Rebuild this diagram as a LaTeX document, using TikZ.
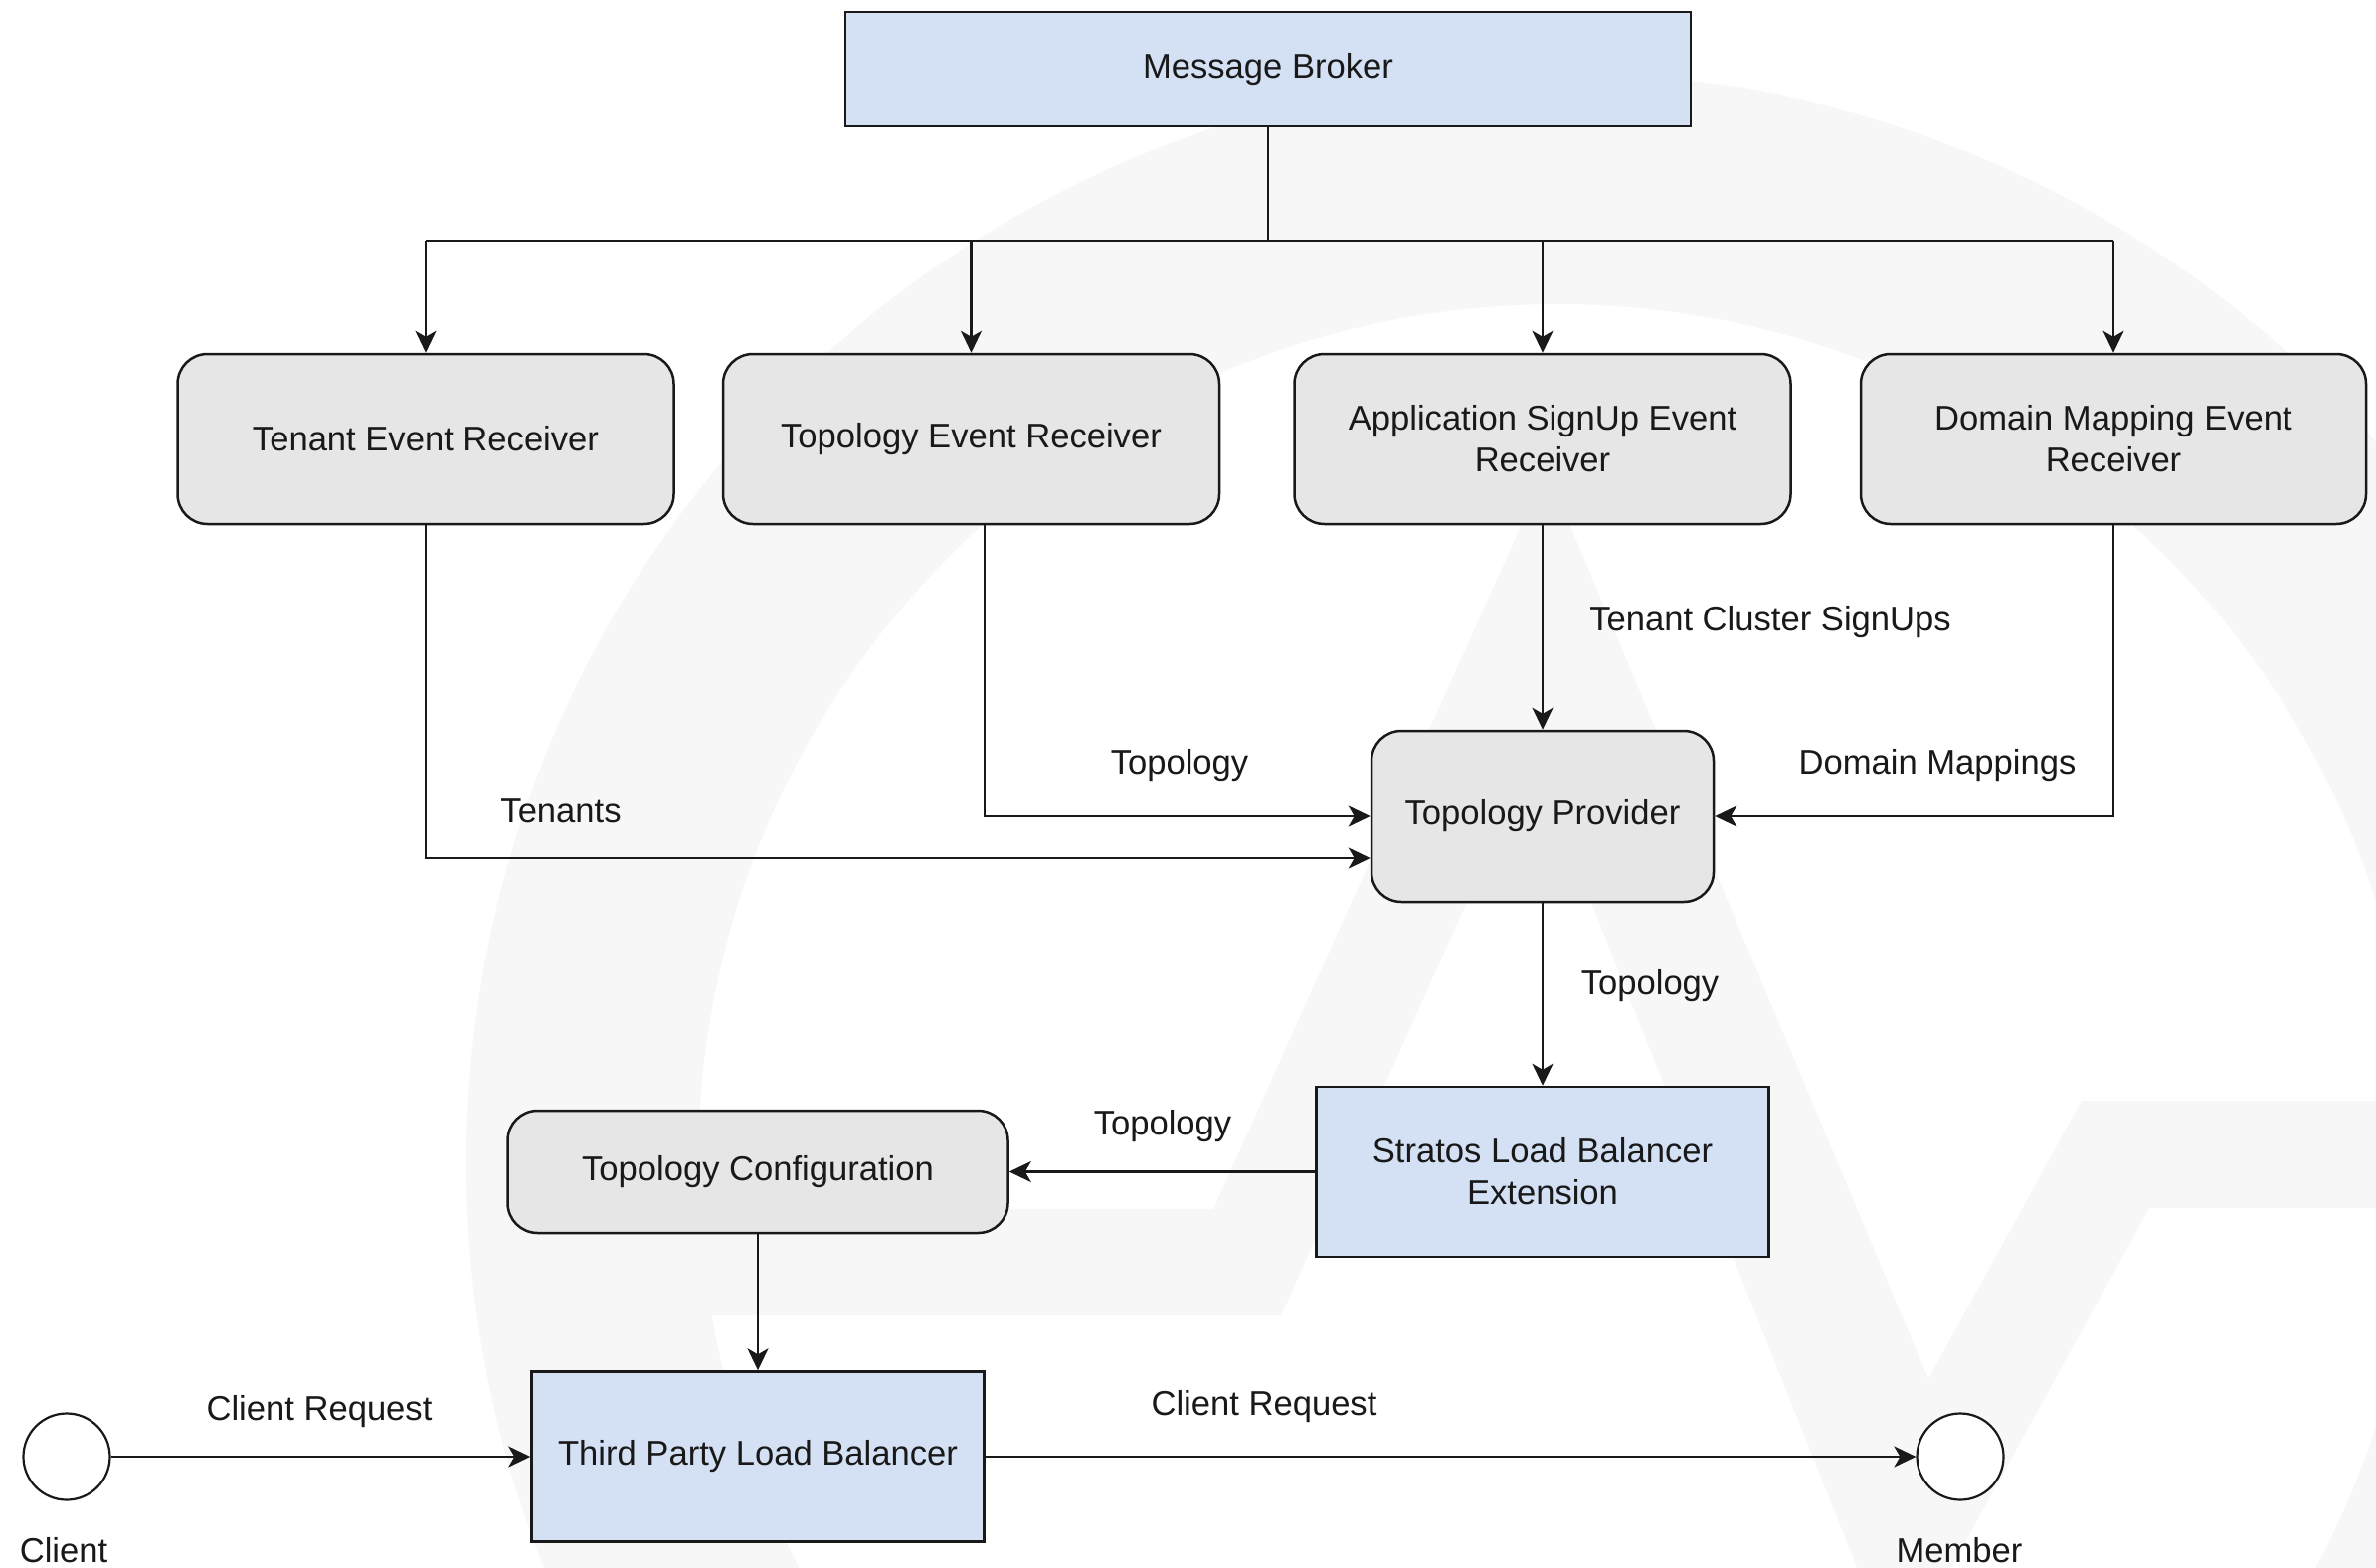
\documentclass[tikz,border=0pt]{standalone}
\usepackage{fontspec}
\setmainfont{Liberation Sans}
\usetikzlibrary{arrows.meta,calc}
\definecolor{boxblue}{RGB}{212,225,245}
\definecolor{boxgrey}{RGB}{230,230,230}
\definecolor{wmgrey}{RGB}{247,247,247}
\begin{document}
\begin{tikzpicture}[x=1pt,y=-1pt,
  every node/.style={font=\fontsize{34.6}{42}\selectfont, inner sep=0pt, text=black!90},
  bluebox/.style={draw=black!90, fill=boxblue, line width=2.5pt, rectangle, align=center},
  greybox/.style={draw=black!90, fill=boxgrey, line width=2.5pt, rectangle, rounded corners=30pt, align=center},
  endpoint/.style={draw=black!90, fill=white, circle, line width=2.2pt, minimum size=87pt},
  link/.style={line width=2.3pt, draw=black!90},
  flow/.style={link, -{Stealth[length=22pt,width=21pt,inset=6pt]}}
]
\useasboundingbox (0,0) rectangle (2389,1576);
\fill[white] (0,0) rectangle (2389,1576);

% faint logo in the background: ring and zigzag
\begin{scope}
  \clip (0,0) rectangle (2389,1576);
  \draw[wmgrey, line width=233pt] (1566,1170) circle[radius=980.5];
  \fill[wmgrey] (650,1216) -- (1220,1216) -- (1555,472) -- (1939,1387)
     -- (2093,1107) -- (2450,1107) -- (2450,1215) -- (2161,1215)
     -- (1907,1676) -- (1541,760) -- (1288,1323) -- (650,1323) -- cycle;
\end{scope}

% boxes
\node[bluebox, minimum width=850pt, minimum height=115pt] (broker) at (1275,69.5) {Message Broker};

\node[greybox, minimum width=499pt, minimum height=171pt] (tenantRx) at (428,441.5) {Tenant Event Receiver};
\node[greybox, minimum width=499pt, minimum height=171pt] (topoRx) at (976.5,441.5) {Topology Event Receiver};
\node[greybox, minimum width=499pt, minimum height=171pt] (appRx) at (1551,441.5) {Application SignUp Event\\Receiver};
\node[greybox, minimum width=508pt, minimum height=171pt] (domRx) at (2125,441.5) {Domain Mapping Event\\Receiver};

\node[greybox, minimum width=344pt, minimum height=172pt] (provider) at (1551,821) {Topology Provider};
\node[bluebox, minimum width=455pt, minimum height=171pt] (stratos) at (1551,1178.5) {Stratos Load Balancer\\Extension};
\node[greybox, minimum width=503pt, minimum height=123pt] (config) at (762,1178.5) {Topology Configuration};
\node[bluebox, minimum width=455pt, minimum height=171pt] (thirdlb) at (762,1465) {Third Party Load Balancer};

\node[endpoint] (client) at (67,1465) {};
\node[endpoint] (member) at (1971,1465) {};

% distribution bus from the broker
\coordinate (busmid) at (1275,242);
\coordinate (busL) at (428,242);
\coordinate (busR) at (2125,242);
\draw[link] (broker.south) -- (busmid);
\draw[link] (busL) -- (busR);
\draw[flow] (busL) -- (tenantRx.north);
\draw[flow] (topoRx.north |- busmid) -- (topoRx.north);
\draw[flow] (appRx.north |- busmid) -- (appRx.north);
\draw[flow] (busR) -- (domRx.north);

% receivers into the topology provider
\draw[flow] (tenantRx.south) |- ($(provider.west)+(0,42)$);
\draw[flow] ($(topoRx.south)+(13.5,0)$) |- (provider.west);
\draw[flow] (appRx.south) -- (provider.north);
\draw[flow] (domRx.south) |- (provider.east);

% downstream flow
\draw[flow] (provider.south) -- (stratos.north);
\draw[flow] (stratos.west) -- (config.east);
\draw[flow] (config.south) -- (thirdlb.north);
\draw[flow] (client.east) -- (thirdlb.west);
\draw[flow] (thirdlb.east) -- (member.west);

% labels
\node (lTenants) at (564,816) {Tenants};
\node (lTopoA) at (1186,770) {Topology};
\node (lSignUps) at (1780,626) {Tenant Cluster SignUps};
\node (lDomain) at (1948,770) {Domain Mappings};
\node (lTopoB) at (1659,992) {Topology};
\node (lTopoC) at (1169,1133) {Topology};
\node (lReqA) at (321,1420) {Client Request};
\node (lReqB) at (1271,1415) {Client Request};
\node (lClient) at (64,1559) {Client};
\node (lMember) at (1970,1559) {Member};
\end{tikzpicture}
\end{document}
